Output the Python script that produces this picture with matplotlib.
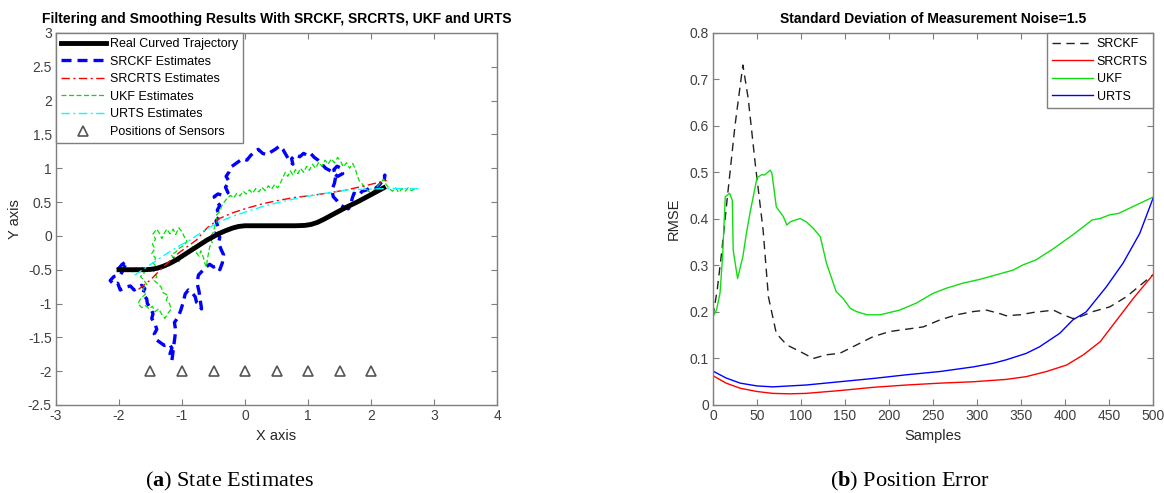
import matplotlib
matplotlib.use('Agg')
import matplotlib.pyplot as plt
import numpy as np
from matplotlib.ticker import FormatStrFormatter

plt.rcParams['font.family'] = ['Liberation Sans', 'DejaVu Sans']
plt.rcParams['axes.unicode_minus'] = False
plt.rcParams['mathtext.fontset'] = 'custom'
plt.rcParams['mathtext.rm'] = 'Liberation Serif'
plt.rcParams['mathtext.bf'] = 'Liberation Serif:bold'

# ---- state estimates (x, y) ----
true_x = [-2.0, -1.8, -1.6, -1.5, -1.4, -1.3, -1.2, -1.1, -1.0, -0.9, -0.8, -0.7, -0.6, -0.5,
          -0.4, -0.3, -0.2, -0.1, 0.0, 0.2, 0.4, 0.6, 0.8, 0.95, 1.05, 1.15, 1.25, 1.4, 1.6,
          1.8, 2.0, 2.2]
true_y = [-0.5, -0.5, -0.5, -0.495, -0.48, -0.45, -0.41, -0.36, -0.30, -0.24, -0.18, -0.12,
          -0.06, -0.01, 0.04, 0.08, 0.115, 0.14, 0.15, 0.15, 0.15, 0.15, 0.15, 0.155, 0.17,
          0.2, 0.245, 0.32, 0.42, 0.51, 0.61, 0.71]

srckf_x = [-2.02, -1.95, -1.88, -1.93, -1.98, -2.08, -2.14, -2.08, -2.02, -1.98, -1.90, -1.82,
           -1.76, -1.70, -1.64, -1.59, -1.63, -1.56, -1.55, -1.50, -1.46, -1.48, -1.43, -1.40,
           -1.44, -1.40, -1.34, -1.28, -1.20, -1.16, -1.19, -1.16, -1.12, -1.10, -1.12, -1.06,
           -1.02, -0.98, -0.95, -0.90, -0.84, -0.79, -0.77, -0.72, -0.69, -0.71, -0.73, -0.76,
           -0.74, -0.68, -0.62, -0.56, -0.50, -0.44, -0.40, -0.36, -0.34, -0.38, -0.42, -0.40,
           -0.46, -0.43, -0.46, -0.40, -0.44, -0.40, -0.46, -0.49, -0.43, -0.35, -0.27, -0.31,
           -0.25, -0.30, -0.25, -0.22, -0.16, -0.10, -0.04, 0.03, 0.09, 0.15, 0.21, 0.28, 0.35,
           0.41, 0.48, 0.55, 0.60, 0.65, 0.70, 0.76, 0.74, 0.80, 0.87, 0.93, 0.99, 1.04, 1.10,
           1.16, 1.22, 1.28, 1.34, 1.40, 1.47, 1.55, 1.53, 1.46, 1.41, 1.44, 1.42, 1.38, 1.40,
           1.46, 1.51, 1.58, 1.64, 1.68, 1.70, 1.73, 1.80, 1.86, 1.93, 2.00, 2.07, 2.14, 2.19,
           2.22, 2.21]
srckf_y = [-0.50, -0.42, -0.38, -0.50, -0.58, -0.60, -0.66, -0.72, -0.70, -0.80, -0.76, -0.74,
           -0.80, -0.77, -0.73, -0.78, -0.86, -0.93, -1.00, -1.07, -1.15, -1.22, -1.30, -1.38,
           -1.45, -1.54, -1.58, -1.62, -1.60, -1.66, -1.74, -1.84, -1.55, -1.40, -1.28, -1.20,
           -1.10, -0.98, -0.86, -0.80, -0.84, -0.90, -0.98, -1.02, -1.08, -0.95, -0.82, -0.70,
           -0.58, -0.52, -0.46, -0.42, -0.46, -0.44, -0.50, -0.40, -0.28, -0.20, -0.10, -0.02,
           0.06, 0.14, 0.22, 0.30, 0.38, 0.45, 0.52, 0.58, 0.62, 0.60, 0.64, 0.72, 0.80, 0.88,
           0.95, 1.02, 1.06, 1.10, 1.14, 1.12, 1.19, 1.24, 1.28, 1.22, 1.20, 1.24, 1.28, 1.33,
           1.28, 1.20, 1.12, 1.06, 1.14, 1.20, 1.17, 1.22, 1.19, 1.22, 1.16, 1.12, 1.06, 1.00,
           0.97, 0.93, 0.88, 0.92, 1.00, 1.03, 0.98, 0.88, 0.78, 0.68, 0.58, 0.52, 0.46, 0.42,
           0.40, 0.46, 0.55, 0.63, 0.60, 0.66, 0.68, 0.72, 0.70, 0.76, 0.83, 0.90, 0.82]

srcrts_x = [-1.69, -1.5, -1.30, -1.05, -0.77, -0.60, -0.40, -0.20, 0.03, 0.30, 0.56, 0.80,
            1.08, 1.35, 1.61, 1.90, 2.25]
srcrts_y = [-0.79, -0.65, -0.46, -0.25, -0.06, 0.12, 0.26, 0.34, 0.41, 0.48, 0.53, 0.57,
            0.60, 0.64, 0.68, 0.74, 0.82]

ukf_x = [-2.0, -1.94, -1.9, -1.84, -1.79, -1.73, -1.68, -1.62, -1.6, -1.66, -1.6, -1.56,
         -1.62, -1.58, -1.65, -1.70, -1.64, -1.58, -1.52, -1.47, -1.43, -1.37, -1.32, -1.27,
         -1.22, -1.17, -1.20, -1.25, -1.22, -1.30, -1.33, -1.38, -1.44, -1.40, -1.45, -1.40,
         -1.46, -1.42, -1.48, -1.43, -1.47, -1.42, -1.46, -1.40, -1.36, -1.32, -1.28, -1.24,
         -1.19, -1.14, -1.10, -1.05, -1.0, -0.96, -0.92, -0.97, -1.04, -1.10, -1.17, -1.12,
         -1.05, -1.0, -0.94, -0.88, -0.83, -0.78, -0.73, -0.70, -0.66, -0.64, -0.61, -0.60,
         -0.58, -0.56, -0.52, -0.55, -0.50, -0.48, -0.44, -0.46, -0.40, -0.37, -0.33, -0.28,
         -0.23, -0.18, -0.13, -0.08, -0.03, 0.02, 0.07, 0.12, 0.17, 0.22, 0.27, 0.32, 0.37,
         0.42, 0.47, 0.52, 0.56, 0.60, 0.64, 0.68, 0.72, 0.76, 0.80, 0.84, 0.88, 0.93, 0.98,
         1.02, 1.07, 1.12, 1.17, 1.22, 1.27, 1.32, 1.37, 1.42, 1.47, 1.52, 1.56, 1.61, 1.66,
         1.71, 1.75, 1.78, 1.81, 1.86, 1.90, 1.95, 2.0, 2.05, 2.10, 2.15, 2.20, 2.24, 2.29,
         2.34, 2.39, 2.44, 2.49, 2.54, 2.59, 2.64, 2.70]
ukf_y = [-0.5, -0.46, -0.52, -0.47, -0.53, -0.47, -0.52, -0.46, -0.55, -0.60, -0.66, -0.72,
         -0.78, -0.86, -0.92, -1.0, -1.06, -1.03, -1.08, -1.04, -1.12, -1.08, -1.16, -1.22,
         -1.14, -1.08, -1.0, -0.95, -0.88, -0.84, -0.76, -0.71, -0.66, -0.60, -0.53, -0.46,
         -0.40, -0.33, -0.26, -0.19, -0.12, -0.05, 0.03, 0.10, 0.04, -0.04, 0.04, 0.10, 0.03,
         0.10, 0.02, 0.12, 0.06, -0.02, -0.08, -0.14, -0.18, -0.24, -0.28, -0.35, -0.38,
         -0.32, -0.28, -0.22, -0.16, -0.24, -0.30, -0.22, -0.32, -0.40, -0.46, -0.36, -0.26,
         -0.16, -0.10, -0.02, 0.06, 0.14, 0.22, 0.30, 0.36, 0.44, 0.50, 0.56, 0.60, 0.56,
         0.63, 0.59, 0.66, 0.62, 0.68, 0.63, 0.70, 0.65, 0.72, 0.67, 0.74, 0.69, 0.76, 0.71,
         0.78, 0.86, 0.94, 0.88, 0.96, 0.90, 0.98, 0.92, 1.0, 0.94, 1.03, 0.97, 1.06, 1.0,
         1.09, 1.03, 1.12, 1.06, 1.14, 1.08, 1.16, 1.1, 1.02, 1.08, 1.0, 1.07, 0.99, 0.9,
         0.82, 0.77, 0.71, 0.67, 0.63, 0.68, 0.73, 0.78, 0.84, 0.76, 0.7, 0.66, 0.71, 0.64,
         0.7, 0.66, 0.71, 0.67, 0.7]

urts_x = [-1.75, -1.56, -1.40, -1.24, -1.05, -0.87, -0.65, -0.40, -0.20, 0.03, 0.30, 0.56,
          0.80, 1.08, 1.35, 1.61, 1.90, 2.25, 2.50, 2.78]
urts_y = [-0.58, -0.46, -0.36, -0.26, -0.15, -0.06, 0.08, 0.21, 0.29, 0.36, 0.44, 0.50,
          0.55, 0.60, 0.64, 0.68, 0.69, 0.70, 0.70, 0.70]

sensor_x = [-1.5, -1.0, -0.5, 0.0, 0.5, 1.0, 1.5, 2.0]
sensor_y = [-2, -2, -2, -2, -2, -2, -2, -2]

# ---- RMSE over samples ----
srckf_s = [0, 5, 10, 16, 25, 34, 40, 48, 57, 63, 72, 84, 99, 114, 129, 144, 163, 182, 201,
           220, 239, 258, 277, 296, 311, 327, 333, 349, 364, 387, 398, 409, 416, 432, 451,
           470, 500]
srckf_r = [0.19, 0.25, 0.33, 0.44, 0.60, 0.731, 0.66, 0.52, 0.376, 0.233, 0.154, 0.129,
           0.115, 0.100, 0.108, 0.111, 0.129, 0.147, 0.158, 0.163, 0.168, 0.183, 0.194,
           0.201, 0.204, 0.196, 0.192, 0.194, 0.199, 0.204, 0.194, 0.186, 0.189, 0.201,
           0.211, 0.233, 0.28]

srcrts_s = [0, 15, 31, 50, 68, 87, 106, 144, 182, 220, 258, 296, 333, 356, 379, 402, 421,
            440, 459, 478, 500]
srcrts_r = [0.063, 0.047, 0.036, 0.029, 0.025, 0.024, 0.025, 0.031, 0.038, 0.043, 0.047,
            0.050, 0.055, 0.061, 0.072, 0.086, 0.108, 0.136, 0.183, 0.230, 0.28]

ukf_s = [0, 4, 8, 11, 14, 19, 22, 23, 28, 34, 38, 42, 50, 55, 59, 65, 67, 72, 80, 84, 88,
         99, 106, 114, 122, 129, 140, 148, 156, 163, 175, 190, 212, 231, 250, 265, 284, 303,
         322, 341, 352, 367, 386, 409, 431, 440, 451, 461, 481, 500]
ukf_r = [0.19, 0.204, 0.24, 0.32, 0.448, 0.455, 0.44, 0.333, 0.272, 0.319, 0.369, 0.412,
         0.488, 0.495, 0.495, 0.505, 0.499, 0.426, 0.405, 0.387, 0.394, 0.401, 0.394, 0.38,
         0.362, 0.305, 0.244, 0.229, 0.208, 0.201, 0.194, 0.194, 0.204, 0.219, 0.24, 0.251,
         0.262, 0.27, 0.28, 0.29, 0.301, 0.312, 0.335, 0.366, 0.398, 0.401, 0.409, 0.412,
         0.43, 0.447]

urts_s = [0, 15, 31, 50, 68, 106, 144, 182, 220, 258, 296, 319, 333, 356, 371, 394, 409,
          424, 447, 466, 485, 500]
urts_r = [0.073, 0.058, 0.047, 0.041, 0.039, 0.043, 0.050, 0.057, 0.065, 0.072, 0.082,
          0.090, 0.097, 0.111, 0.125, 0.154, 0.183, 0.200, 0.254, 0.305, 0.369, 0.444]

fig = plt.figure(figsize=(11.64, 4.93), dpi=100)
ax1 = fig.add_axes([0.0481, 0.1785, 0.3789, 0.7546])
ax2 = fig.add_axes([0.6125, 0.1785, 0.3780, 0.7546])


def matlab_style(ax):
    for sp in ax.spines.values():
        sp.set_color('#7f7f7f')
        sp.set_linewidth(1.0)
    ax.tick_params(direction='in', top=True, right=True, length=4, width=0.8,
                   color='#7f7f7f', labelcolor='#404040', labelsize=10, pad=3)


# left: trajectories
ax1.plot(true_x, true_y, color='black', lw=3.5, label='Real Curved Trajectory', zorder=4)
ax1.plot(srckf_x, srckf_y, color='blue', lw=2.4, dashes=(3, 1.8), label='SRCKF Estimates')
ax1.plot(srcrts_x, srcrts_y, color='red', lw=1.0, dashes=(6, 2.5, 1.5, 2.5),
         label='SRCRTS Estimates', zorder=5)
ax1.plot(ukf_x, ukf_y, color='#00e000', lw=0.9, dashes=(4, 2), label='UKF Estimates')
ax1.plot(urts_x, urts_y, color='cyan', lw=1.0, dashes=(6, 2.5, 1.5, 2.5),
         label='URTS Estimates', zorder=5)
ax1.plot(sensor_x, sensor_y, linestyle='none', marker='^', markersize=7,
         markerfacecolor='none', markeredgecolor='#555555', markeredgewidth=1.2,
         label='Positions of Sensors')
ax1.set_xlim(-3, 4)
ax1.set_ylim(-2.5, 3)
ax1.set_xticks(np.arange(-3, 5, 1))
ax1.set_yticks(np.arange(-2.5, 3.01, 0.5))
ax1.yaxis.set_major_formatter(FormatStrFormatter('%g'))
matlab_style(ax1)
ax1.set_xlabel('X axis', fontsize=10.5, color='#262626')
ax1.set_ylabel('Y axis', fontsize=10.5, color='#262626', labelpad=4)
ax1.set_title('Filtering and Smoothing Results With SRCKF, SRCRTS, UKF and URTS',
              fontsize=10, fontweight='bold', pad=7)
leg1 = ax1.legend(loc='upper left', borderaxespad=0, fontsize=9, handlelength=3.6,
                  handletextpad=0.3, labelspacing=0.45, fancybox=False, framealpha=1,
                  edgecolor='#7f7f7f', borderpad=0.4)
leg1.get_frame().set_linewidth(1.0)

# right: RMSE
ax2.plot(srckf_s, srckf_r, color='#222222', lw=1.0, dashes=(6, 4), label='SRCKF')
ax2.plot(srcrts_s, srcrts_r, color='red', lw=1.0, label='SRCRTS')
ax2.plot(ukf_s, ukf_r, color='#11dd11', lw=1.0, label='UKF')
ax2.plot(urts_s, urts_r, color='blue', lw=1.0, label='URTS')
ax2.set_xlim(0, 500)
ax2.set_ylim(0, 0.8)
ax2.set_xticks(np.arange(0, 501, 50))
ax2.set_yticks(np.arange(0, 0.81, 0.1))
ax2.yaxis.set_major_formatter(FormatStrFormatter('%g'))
matlab_style(ax2)
ax2.set_xlabel('Samples', fontsize=10.5, color='#262626')
ax2.set_ylabel('RMSE', fontsize=10.5, color='#262626', labelpad=6)
ax2.set_title('Standard Deviation of Measurement Noise=1.5', fontsize=10,
              fontweight='bold', pad=7)
leg2 = ax2.legend(loc='upper right', borderaxespad=0, fontsize=9, handlelength=3.3,
                  handletextpad=0.3, labelspacing=0.45, fancybox=False, framealpha=1,
                  edgecolor='#7f7f7f', borderpad=0.4)
leg2.get_frame().set_linewidth(1.0)

fig.text(0.197, 0.024, r'($\mathbf{a}$) State Estimates', ha='center', va='center',
         fontsize=16, family='Liberation Serif')
fig.text(0.782, 0.024, r'($\mathbf{b}$) Position Error', ha='center', va='center',
         fontsize=16, family='Liberation Serif')

fig.savefig('out.png', dpi=100)
